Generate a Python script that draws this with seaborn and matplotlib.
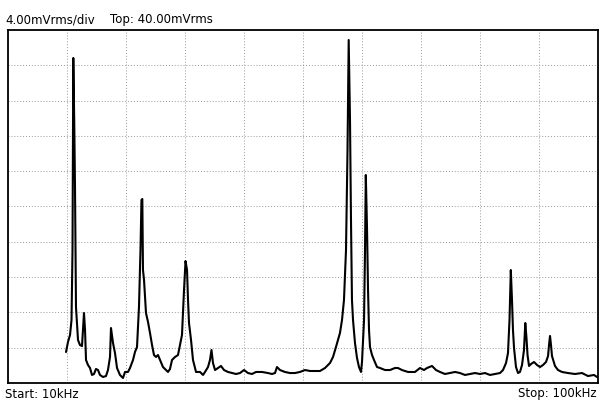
import matplotlib
matplotlib.use("Agg")
import matplotlib.pyplot as plt
import seaborn as sns
import pandas as pd
import numpy as np

# Frequency (kHz) and amplitude (mVrms)
freq_khz = [
    18.85, 19.00, 19.15, 19.46, 19.69, 19.84, 19.96, 20.10, 20.22, 20.37,
    20.68, 20.98, 21.29, 21.44, 21.59, 21.75, 21.90, 22.20, 22.51, 22.81,
    23.12, 23.42, 23.73, 24.03, 24.49, 24.95, 25.25, 25.56, 25.71, 25.86,
    26.02, 26.32, 26.63, 27.08, 27.54, 27.85, 28.30, 28.61, 29.07, 29.37,
    29.68, 29.98, 30.21, 30.36, 30.49, 30.59, 30.75, 31.05, 31.36, 31.66,
    31.97, 32.27, 32.58, 32.88, 33.19, 33.64, 34.10, 34.41, 34.71, 35.02,
    35.48, 35.93, 36.24, 36.54, 36.85, 37.08, 37.31, 37.46, 37.61, 37.92,
    38.22, 38.68, 39.29, 39.75, 40.05, 40.51, 40.81, 41.04, 41.27, 41.58,
    42.03, 42.49, 42.95, 43.56, 44.17, 44.78, 45.39, 46.00, 46.61, 47.22,
    47.83, 48.75, 49.66, 50.27, 50.73, 51.03, 51.49, 52.25, 53.02, 53.78,
    54.54, 55.30, 56.07, 56.83, 57.59, 58.36, 59.12, 59.58, 60.03, 60.64,
    60.95, 61.25, 61.56, 61.79, 61.97, 62.17, 62.32, 62.47, 62.63, 62.93,
    63.24, 63.54, 63.85, 64.00, 64.31, 64.46, 64.58, 64.77, 64.92, 65.07,
    65.22, 65.53, 65.83, 66.29, 66.75, 67.51, 68.27, 69.03, 69.49, 70.10,
    71.02, 72.08, 72.85, 73.46, 73.92, 74.68, 75.29, 75.90, 76.66, 77.42,
    78.19, 78.95, 79.71, 80.47, 81.24, 82.00, 82.76, 83.53, 84.29, 85.05,
    85.51, 85.97, 86.27, 86.50, 86.70, 86.88, 87.03, 87.19, 87.49, 87.80,
    88.10, 88.41, 88.71, 88.91, 89.09, 89.25, 89.48, 89.78, 90.24, 90.70,
    91.16, 91.61, 92.07, 92.38, 92.53, 92.68, 92.83, 92.98, 93.44, 93.90,
    94.51, 95.42, 96.49, 97.56, 98.47, 99.39, 99.85,
]
amp_mv = [
    3.51, 4.08, 4.65, 5.44, 7.14, 15.07, 36.83, 29.80, 22.21, 8.61,
    4.87, 4.30, 4.19, 6.01, 7.93, 6.01, 2.61, 2.04, 1.70, 0.91,
    1.02, 1.59, 1.47, 0.91, 0.68, 0.79, 1.47, 2.95, 6.23, 5.44,
    4.53, 3.40, 1.70, 0.91, 0.57, 1.25, 1.25, 1.70, 2.61, 3.51,
    4.08, 8.61, 15.07, 20.74, 20.85, 12.80, 11.67, 7.93, 6.91, 5.67,
    4.31, 3.17, 2.95, 3.17, 2.61, 1.81, 1.47, 1.25, 1.59, 2.61,
    2.95, 3.17, 4.31, 5.44, 10.54, 13.82, 12.80, 9.40, 6.80, 4.87,
    2.61, 1.25, 1.25, 0.91, 1.25, 1.81, 2.61, 3.74, 2.27, 1.47,
    1.70, 1.93, 1.47, 1.25, 1.13, 1.02, 1.13, 1.47, 1.13, 1.02,
    1.25, 1.25, 1.13, 1.02, 1.13, 1.81, 1.47, 1.25, 1.13, 1.13,
    1.25, 1.47, 1.36, 1.36, 1.36, 1.70, 2.27, 2.95, 4.08, 5.67,
    7.14, 9.40, 15.07, 26.40, 38.87, 29.80, 18.47, 9.40, 7.14, 4.53,
    2.83, 1.81, 1.25, 2.38, 7.14, 15.07, 23.57, 17.34, 10.54, 6.01,
    4.08, 3.17, 2.61, 1.81, 1.70, 1.47, 1.47, 1.70, 1.70, 1.47,
    1.25, 1.25, 1.70, 1.47, 1.70, 1.93, 1.47, 1.25, 1.02, 1.13,
    1.25, 1.13, 0.91, 1.02, 1.13, 1.02, 1.13, 0.91, 1.02, 1.13,
    1.47, 2.27, 3.40, 7.14, 12.80, 9.40, 6.01, 3.97, 1.81, 1.13,
    1.25, 2.04, 3.74, 6.80, 5.10, 3.17, 1.93, 2.15, 2.38, 2.04,
    1.81, 2.04, 2.38, 3.06, 4.31, 5.33, 4.31, 3.06, 1.93, 1.47,
    1.25, 1.13, 1.02, 1.13, 0.79, 0.91, 0.68,
]

x_ticks = [10, 19, 28, 37, 46, 55, 64, 73, 82, 91, 100]
y_ticks = [0, 4, 8, 12, 16, 20, 24, 28, 32, 36, 40]

header_left = "4.00mVrms/div"
header_mid = "Top: 40.00mVrms"
footer_left = "Start: 10kHz"
footer_right = "Stop: 100kHz"

sns.set_theme(style="white")
plt.rcParams["font.family"] = ["Liberation Sans Narrow", "DejaVu Sans Condensed", "DejaVu Sans"]
plt.rcParams["text.color"] = "black"

df = pd.DataFrame({"freq": freq_khz, "amp": amp_mv})

fig = plt.figure(figsize=(6.01, 4.04), dpi=100)
ax = fig.add_axes([8 / 601, (404 - 383) / 404, 590 / 601, (383 - 30) / 404])

sns.lineplot(data=df, x="freq", y="amp", ax=ax, color="black", linewidth=1.5,
             sort=False, estimator=None)

ax.set_xlim(10, 100)
ax.set_ylim(0, 40)
ax.set_xticks(x_ticks)
ax.set_yticks(y_ticks)
ax.set_xticklabels([])
ax.set_yticklabels([])
ax.tick_params(length=0)
ax.set_xlabel("")
ax.set_ylabel("")
ax.grid(True, color="#999999", linestyle=(0, (1, 2)), linewidth=0.7)
for s in ax.spines.values():
    s.set_color("black")
    s.set_linewidth(1.3)

fig.text(5 / 601, 1 - 20 / 404, header_left, fontsize=8.5, ha="left", va="center", color="black")
fig.text(110 / 601, 1 - 20 / 404, header_mid, fontsize=8.5, ha="left", va="center", color="black")
fig.text(5 / 601, 1 - 394 / 404, footer_left, fontsize=8.5, ha="left", va="center", color="black")
fig.text(597 / 601, 1 - 394 / 404, footer_right, fontsize=8.5, ha="right", va="center", color="black")

fig.savefig("out.png", dpi=100)
